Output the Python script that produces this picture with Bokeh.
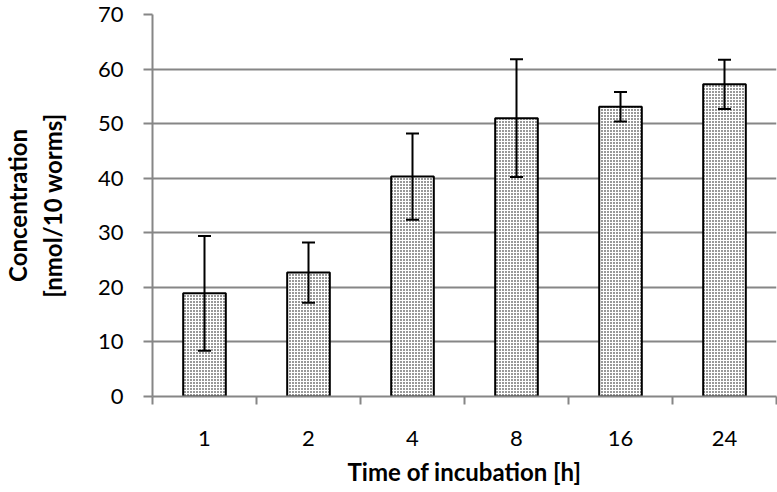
from bokeh.plotting import figure
from bokeh.models import ColumnDataSource, Whisker, TeeHead, FixedTicker, Range1d
from bokeh.embed import file_html
from bokeh.resources import INLINE

categories = ["1", "2", "4", "8", "16", "24"]
means = [18.9, 22.7, 40.3, 51.0, 53.1, 57.2]
errors = [10.5, 5.5, 7.9, 10.8, 2.7, 4.5]
y_ticks = [0, 10, 20, 30, 40, 50, 60, 70]

xs = [i + 0.5 for i in range(len(categories))]
src = ColumnDataSource(dict(
    x=xs, top=means,
    upper=[m + e for m, e in zip(means, errors)],
    lower=[m - e for m, e in zip(means, errors)],
))

FONT = "Lato"
GRID = "#868686"

p = figure(width=777, height=492, output_backend="svg", toolbar_location=None,
           x_range=Range1d(0, len(categories)), y_range=Range1d(0, 70),
           min_border_left=148, min_border_right=1, min_border_top=14, min_border_bottom=96)
p.outline_line_color = None
p.background_fill_color = "white"

p.vbar(x="x", top="top", bottom=0, width=0.41, source=src,
       fill_color="white", line_color="black", line_width=2,
       hatch_pattern="dot", hatch_color="black", hatch_scale=3, hatch_weight=1.6)

w = Whisker(source=src, base="x", upper="upper", lower="lower",
            line_color="black", line_width=2, level="overlay",
            upper_head=TeeHead(size=13, line_width=2, line_color="black"),
            lower_head=TeeHead(size=13, line_width=2, line_color="black"))
p.add_layout(w)

# x axis
xt = FixedTicker(ticks=xs, minor_ticks=list(range(len(categories) + 1)))
p.xaxis.ticker = xt
p.xaxis.major_label_overrides = {x: c for x, c in zip(xs, categories)}
p.xaxis.major_tick_out = 0
p.xaxis.major_tick_in = 0
p.xaxis.minor_tick_out = 8
p.xaxis.minor_tick_in = 0
p.xaxis.minor_tick_line_color = GRID
p.xaxis.minor_tick_line_width = 2
p.xaxis.axis_line_color = GRID
p.xaxis.axis_line_width = 2
p.xaxis.major_label_standoff = 26
p.xaxis.major_label_text_font = FONT
p.xaxis.major_label_text_font_size = "22px"
p.xaxis.major_label_text_color = "black"
p.xaxis.axis_label = "Time of incubation [h]"
p.xaxis.axis_label_text_font = FONT
p.xaxis.axis_label_text_font_style = "bold"
p.xaxis.axis_label_text_font_size = "24px"
p.xaxis.axis_label_text_color = "black"
p.xaxis.axis_label_standoff = 8

# y axis
p.yaxis.ticker = FixedTicker(ticks=y_ticks, minor_ticks=[])
p.yaxis.major_tick_out = 9
p.yaxis.major_tick_in = 0
p.yaxis.major_tick_line_color = GRID
p.yaxis.major_tick_line_width = 2
p.yaxis.axis_line_color = GRID
p.yaxis.axis_line_width = 2
p.yaxis.major_label_standoff = 20
p.yaxis.major_label_text_font = FONT
p.yaxis.major_label_text_font_size = "22px"
p.yaxis.major_label_text_color = "black"
p.yaxis.axis_label = "Concentration\n[nmol/10 worms]"
p.yaxis.axis_label_text_font = FONT
p.yaxis.axis_label_text_font_style = "bold"
p.yaxis.axis_label_text_font_size = "24px"
p.yaxis.axis_label_text_color = "black"
p.yaxis.axis_label_standoff = 28

p.xgrid.grid_line_color = None
p.ygrid.ticker = FixedTicker(ticks=y_ticks)
p.ygrid.grid_line_color = GRID
p.ygrid.grid_line_width = 2

open("out.html", "w").write(file_html(p, INLINE))
